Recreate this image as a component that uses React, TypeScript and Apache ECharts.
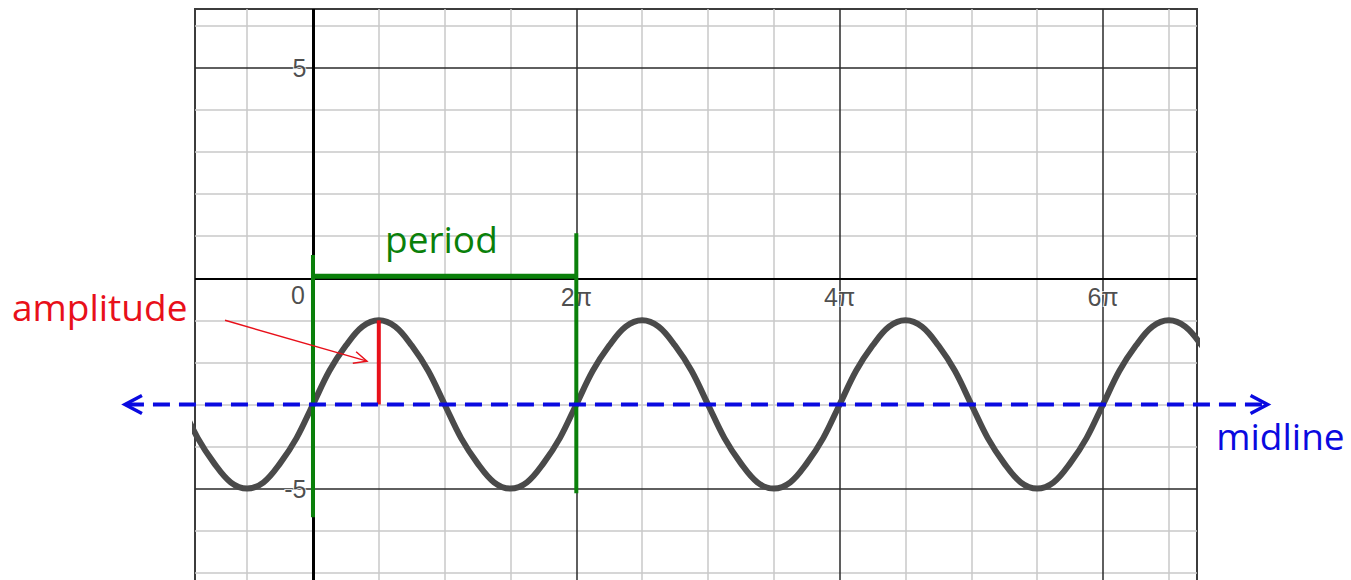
import React, { useEffect, useRef } from "react";
import * as echarts from "echarts";

// x values are expressed in multiples of π
const curveX = [
  -1, -0.875, -0.75, -0.625, -0.5, -0.375, -0.25, -0.125,
  0, 0.125, 0.25, 0.375, 0.5, 0.625, 0.75, 0.875, 1, 1.125, 1.25, 1.375, 1.5, 1.625, 1.75, 1.875,
  2, 2.125, 2.25, 2.375, 2.5, 2.625, 2.75, 2.875, 3, 3.125, 3.25, 3.375, 3.5, 3.625, 3.75, 3.875,
  4, 4.125, 4.25, 4.375, 4.5, 4.625, 4.75, 4.875, 5, 5.125, 5.25, 5.375, 5.5, 5.625, 5.75, 5.875,
  6, 6.125, 6.25, 6.375, 6.5, 6.625, 6.75, 6.875, 7,
];
const curveY = [
  -3, -3.8, -4.4, -4.85, -5, -4.85, -4.4, -3.8,
  -3, -2.2, -1.6, -1.15, -1, -1.15, -1.6, -2.2, -3, -3.8, -4.4, -4.85, -5, -4.85, -4.4, -3.8,
  -3, -2.2, -1.6, -1.15, -1, -1.15, -1.6, -2.2, -3, -3.8, -4.4, -4.85, -5, -4.85, -4.4, -3.8,
  -3, -2.2, -1.6, -1.15, -1, -1.15, -1.6, -2.2, -3, -3.8, -4.4, -4.85, -5, -4.85, -4.4, -3.8,
  -3, -2.2, -1.6, -1.15, -1, -1.15, -1.6, -2.2, -3,
];

// grid lines
const xMinorGrid = [-0.5, 0.5, 1, 1.5, 2.5, 3, 3.5, 4.5, 5, 5.5, 6.5];
const xMajorGrid = [2, 4, 6];
const yMinorGrid = [6, 4, 3, 2, 1, -1, -2, -3, -4, -6, -7];
const yMajorGrid = [5, -5];

// tick labels
const xTickValues = [2, 4, 6];
const xTickLabels = ["2π", "4π", "6π"];
const yTickValues = [5, -5];
const yTickLabels = ["5", "-5"];
const originLabel = "0";

// annotations (data units)
const midlineY = -3;
const midlineX = [-1.428, 7.25];
const periodX = [0, 2];
const periodBarY = 0.05;
const periodLeftY = [0.55, -5.68];
const periodRightY = [1.07, -5.11];
const amplitudeX = 0.5;
const amplitudeY = [-1, -3];
const amplitudeArrowFrom = [-0.668, -1.0];
const amplitudeArrowTo = [0.41, -1.97];
const periodTextAt = [0.547, 0.62];
const amplitudeTextAt = [-2.286, -1.0];
const midlineTextAt = [6.86, -4.06];

const GREEN = "#0a800a";
const RED = "#e8101a";
const BLUE = "#0a0ae0";
const TEXT_FONT = '"Open Sans", sans-serif';

export default function App() {
  const ref = useRef<HTMLDivElement>(null);

  useEffect(() => {
    const chart = echarts.init(ref.current!, undefined, { renderer: "svg" });
    const noLabel = { show: false };
    const mk = (z: number, color: string, width: number, data: any[]) => ({
      type: "line",
      data: [],
      silent: true,
      z,
      markLine: {
        z,
        silent: true,
        animation: false,
        symbol: ["none", "none"],
        label: noLabel,
        lineStyle: { color, width, type: "solid" },
        emphasis: { disabled: true },
        data,
      },
    });

    const labelStyle = {
      show: true,
      color: "#1e1e1e",
      fontFamily: '"Liberation Sans", Arial, sans-serif',
      fontSize: 25,
      textBorderColor: "#ffffff",
      textBorderWidth: 2,
    };

    const labelData = [
      ...yTickValues.map((v, i) => ({
        value: [0, v],
        label: { ...labelStyle, position: "left", distance: 6, formatter: yTickLabels[i] },
      })),
      ...xTickValues.map((v, i) => ({
        value: [v, 0],
        label: { ...labelStyle, position: "bottom", distance: 6, formatter: xTickLabels[i] },
      })),
      {
        value: [0, 0],
        label: { ...labelStyle, position: "bottom", distance: 4, offset: [-15, 0], formatter: originLabel },
      },
    ];

    const option: any = {
      animation: false,
      backgroundColor: "#ffffff",
      grid: {
        left: 195,
        width: 1002,
        top: 9,
        height: 581,
        show: true,
        borderColor: "#3c3c3c",
        borderWidth: 2,
        backgroundColor: "transparent",
      },
      xAxis: { type: "value", min: -0.896, max: 6.714, show: false },
      yAxis: { type: "value", min: -7.41, max: 6.4, show: false },
      series: [
        mk(1, "#c9c9c9", 1.5, [
          ...xMinorGrid.map((v) => ({ xAxis: v })),
          ...yMinorGrid.map((v) => ({ yAxis: v })),
        ]),
        mk(2, "#2a2a2a", 1.5, [
          ...xMajorGrid.map((v) => ({ xAxis: v })),
          ...yMajorGrid.map((v) => ({ yAxis: v })),
        ]),
        mk(3, "#000000", 2, [{ yAxis: 0 }]),
        mk(3, "#000000", 3, [{ xAxis: 0 }]),
        {
          type: "line",
          name: "curve",
          data: curveX.map((x, i) => [x, curveY[i]]),
          smooth: 0.35,
          showSymbol: false,
          symbol: "none",
          silent: true,
          z: 10,
          lineStyle: { color: "#4a4a4a", width: 6 },
        },
        {
          type: "scatter",
          name: "ticks",
          data: labelData,
          symbolSize: 1,
          itemStyle: { color: "rgba(0,0,0,0)" },
          silent: true,
          z: 20,
        },
      ],
    };
    chart.setOption(option);

    const P = (x: number, y: number) =>
      chart.convertToPixel({ seriesIndex: 4 }, [x, y]) as number[];

    const seg = (a: number[], b: number[], color: string, width: number, dash?: number[]) => ({
      type: "line",
      z: 50,
      silent: true,
      shape: { x1: a[0], y1: a[1], x2: b[0], y2: b[1] },
      style: { stroke: color, lineWidth: width, lineDash: dash || null, lineCap: "butt" },
    });

    const chevron = (tip: number[], from: number[], len: number, half: number, color: string, width: number) => {
      const dx = tip[0] - from[0];
      const dy = tip[1] - from[1];
      const d = Math.hypot(dx, dy);
      const ux = dx / d, uy = dy / d;
      const bx = tip[0] - ux * len, by = tip[1] - uy * len;
      const nx = -uy, ny = ux;
      return {
        type: "polyline",
        z: 51,
        silent: true,
        shape: {
          points: [
            [bx + nx * half, by + ny * half],
            [tip[0], tip[1]],
            [bx - nx * half, by - ny * half],
          ],
        },
        style: { stroke: color, lineWidth: width, fill: null, lineJoin: "miter" },
      };
    };

    const txt = (at: number[], text: string, color: string) => {
      const p = P(at[0], at[1]);
      return {
        type: "text",
        z: 60,
        silent: true,
        x: p[0],
        y: p[1] - 14,
        style: {
          text,
          fill: color,
          fontSize: 37,
          fontFamily: TEXT_FONT,
          align: "left",
          verticalAlign: "middle",
        },
      };
    };

    const midA = P(midlineX[0], midlineY);
    const midB = P(midlineX[1], midlineY);
    const arrA = P(amplitudeArrowFrom[0], amplitudeArrowFrom[1]);
    const arrB = P(amplitudeArrowTo[0], amplitudeArrowTo[1]);

    const elements = [
      seg(P(periodX[0], periodBarY), P(periodX[1], periodBarY), GREEN, 5),
      seg(P(periodX[0], periodLeftY[0]), P(periodX[0], periodLeftY[1]), GREEN, 4),
      seg(P(periodX[1], periodRightY[0]), P(periodX[1], periodRightY[1]), GREEN, 4),
      seg(P(amplitudeX, amplitudeY[0]), P(amplitudeX, amplitudeY[1]), RED, 4),
      seg(arrA, arrB, RED, 1.5),
      chevron(arrB, arrA, 13, 6, RED, 1.5),
      seg([midA[0] + 2, midA[1]], [midB[0] - 2, midB[1]], BLUE, 4, [17, 9]),
      chevron(midA, midB, 17, 9, BLUE, 3.5),
      chevron(midB, midA, 17, 9, BLUE, 3.5),
      txt(periodTextAt, "period", GREEN),
      txt(amplitudeTextAt, "amplitude", RED),
      txt(midlineTextAt, "midline", BLUE),
    ];
    chart.setOption({ graphic: { elements } });

    return () => chart.dispose();
  }, []);

  return (
    <div
      ref={ref}
      style={{ position: "fixed", left: 0, top: 0, width: 1351, height: 600, background: "#ffffff" }}
    />
  );
}
